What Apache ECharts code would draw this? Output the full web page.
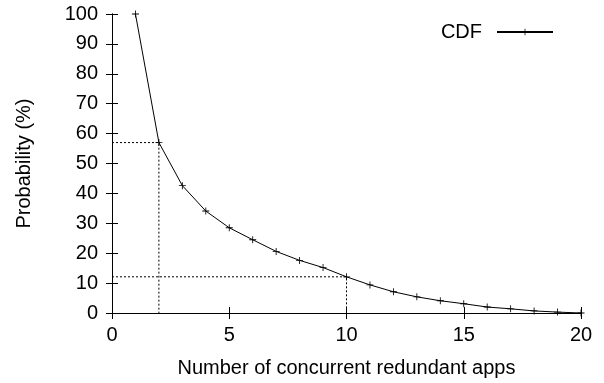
<!DOCTYPE html>
<html>
<head>
<meta charset="utf-8">
<script src="https://cdn.jsdelivr.net/npm/echarts@6/dist/echarts.min.js"></script>
<style>
  html, body { margin: 0; padding: 0; background: #fff; }
  #cdf-chart { width: 604px; height: 383px; }
</style>
</head>
<body>
<div id="cdf-chart"></div>
<script>
var appCounts = [1, 2, 3, 4, 5, 6, 7, 8, 9, 10, 11, 12, 13, 14, 15, 16, 17, 18, 19, 20];
var cdfValues = [100, 57, 42.6, 34.1, 28.5, 24.5, 20.6, 17.6, 15.2, 12.1, 9.4, 7.1, 5.4, 4.1, 3.1, 2.0, 1.4, 0.7, 0.3, 0];
var guideIndex = [1, 9]; // x = 2 and x = 10
var xTicks = [0, 5, 10, 15, 20];
var yTicks = [0, 10, 20, 30, 40, 50, 60, 70, 80, 90, 100];

var fontName = 'Liberation Sans';
var fontSize = 20;
var plusPath = 'path://M4.4,0H5.6V4.4H10V5.6H5.6V10H4.4V5.6H0V4.4H4.4Z';

var cdfData = [];
for (var i = 0; i < appCounts.length; i++) {
	cdfData.push([appCounts[i], cdfValues[i]]);
}

var series = [{
	name: 'CDF',
	type: 'line',
	data: cdfData,
	symbol: plusPath,
	symbolSize: 7,
	showAllSymbol: true,
	itemStyle: { color: '#000' },
	lineStyle: { color: '#000', width: 1 },
	z: 3
}];

// dotted guide lines at x = 2 and x = 10
for (var g = 0; g < guideIndex.length; g++) {
	var gx = appCounts[guideIndex[g]];
	var gy = cdfValues[guideIndex[g]];
	series.push({
		name: 'guide' + g,
		type: 'line',
		data: [[0, gy], [gx, gy], [gx, 0]],
		symbol: 'none',
		silent: true,
		lineStyle: { color: '#000', width: 1, type: [2, 2] },
		z: 2
	});
}

var axisLine = { lineStyle: { color: '#000', width: 1 } };
var axisTick = { inside: true, length: 6, lineStyle: { color: '#000' } };

var option = {
	animation: false,
	backgroundColor: '#fff',
	textStyle: { fontFamily: fontName },
	legend: {
		data: ['CDF'],
		right: 45,
		top: 17,
		align: 'right',
		itemWidth: 56,
		itemHeight: 8,
		textStyle: { fontFamily: fontName, fontSize: fontSize, color: '#000', padding: [0, 10, 0, 0] }
	},
	grid: {
		left: 112,
		right: 23,
		top: 14,
		bottom: 68
	},
	xAxis: [{
		type: 'value',
		min: xTicks[0],
		max: xTicks[xTicks.length - 1],
		interval: 5,
		name: 'Number of concurrent redundant apps',
		nameLocation: 'middle',
		nameGap: 45,
		nameTextStyle: { fontFamily: fontName, fontSize: fontSize, color: '#000' },
		axisLine: axisLine,
		axisTick: axisTick,
		axisLabel: { margin: 12, fontFamily: fontName, fontSize: fontSize, color: '#000' },
		splitLine: { show: false }
	}, {
		type: 'value',
		position: 'top',
		min: xTicks[0],
		max: xTicks[xTicks.length - 1],
		interval: 5,
		axisLine: axisLine,
		axisTick: axisTick,
		axisLabel: { show: false },
		splitLine: { show: false }
	}],
	yAxis: [{
		type: 'value',
		min: yTicks[0],
		max: yTicks[yTicks.length - 1],
		interval: 10,
		name: 'Probability (%)',
		nameLocation: 'middle',
		nameGap: 78,
		nameTextStyle: { fontFamily: fontName, fontSize: fontSize, color: '#000' },
		axisLine: axisLine,
		axisTick: axisTick,
		axisLabel: { margin: 14, fontFamily: fontName, fontSize: fontSize, color: '#000' },
		splitLine: { show: false }
	}, {
		type: 'value',
		position: 'right',
		min: yTicks[0],
		max: yTicks[yTicks.length - 1],
		interval: 10,
		axisLine: axisLine,
		axisTick: axisTick,
		axisLabel: { show: false },
		splitLine: { show: false }
	}],
	series: series
};

var cdfChart = echarts.init(document.getElementById('cdf-chart'));
cdfChart.setOption(option);
</script>
</body>
</html>
